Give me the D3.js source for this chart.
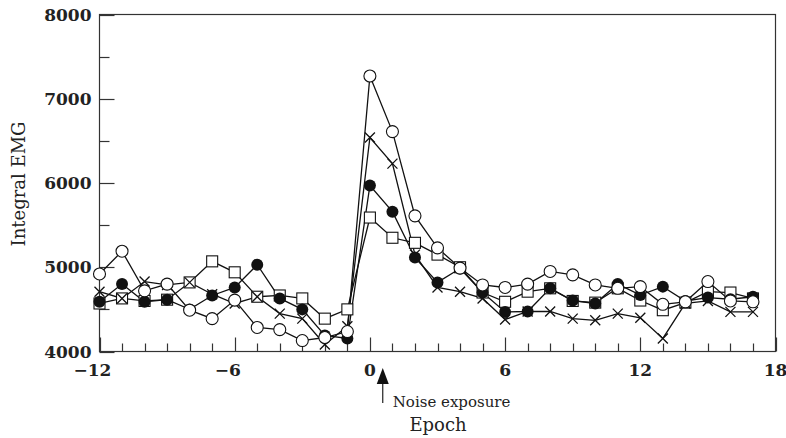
<!DOCTYPE html>
<html>
<head>
<meta charset="utf-8">
<script src="https://cdn.jsdelivr.net/npm/d3@7"></script>
<style>
  body { margin: 0; background: #fff; }
  svg { display: block; }
</style>
</head>
<body>
<div id="chart"></div>
<script>
// epochs -12 .. 17
var epochs = d3.range(-12, 18);

var openCircles = [4920, 5190, 4720, 4800, 4490, 4390, 4610, 4285, 4260, 4130, 4166, 4237,
                   7270, 6610, 5610, 5230, 4990, 4790, 4760, 4800, 4950, 4910, 4790, 4750, 4770, 4560,
                   4590, 4830, 4600, 4590];
var crosses = [4710, 4630, 4830, 4790, 4820, 4680, 4570, 4650, 4450, 4390, 4083, 4300,
               6540, 6230, 5150, 4760, 4710, 4630, 4380, 4475, 4475, 4390, 4370, 4450, 4400, 4155,
               4570, 4600, 4470, 4470];
var filledCircles = [4590, 4800, 4590, 4615, 4500, 4665, 4760, 5030, 4630, 4500, 4190, 4155,
                     5970, 5660, 5115, 4820, 4985, 4700, 4470, 4475, 4750, 4605, 4570, 4800, 4670, 4770,
                     4600, 4640, 4620, 4650];
var openSquares = [4570, 4630, 4600, 4615, 4820, 5070, 4940, 4650, 4665, 4630, 4390, 4500,
                   5590, 5350, 5290, 5150, 5000, 4700, 4590, 4710, 4750, 4600, 4580, 4750, 4605, 4490,
                   4580, 4710, 4700, 4630];

var xTicks = [-12, -6, 0, 6, 12, 18];
var yTicks = [4000, 5000, 6000, 7000, 8000];

var W = 786, H = 438;
var m = {left: 99.5, right: 775.5, top: 14.5, bottom: 351.5};

var svg = d3.select("#chart").append("svg")
  .attr("width", W)
  .attr("height", H);

var x = d3.scaleLinear().domain([-12, 18]).range([m.left, m.right]);
var y = d3.scaleLinear().domain([4000, 8000]).range([m.bottom, m.top]);

var axisColor = "#333";

// frame
svg.append("rect")
  .attr("x", m.left).attr("y", m.top)
  .attr("width", m.right - m.left).attr("height", m.bottom - m.top)
  .attr("fill", "none").attr("stroke", axisColor).attr("stroke-width", 1.2);

// x ticks (inward)
svg.append("g").selectAll("line")
  .data(d3.range(-12, 19))
  .join("line")
    .attr("x1", function(d) { return Math.round(x(d)) + 0.5; })
    .attr("x2", function(d) { return Math.round(x(d)) + 0.5; })
    .attr("y1", m.bottom)
    .attr("y2", function(d) { return d % 6 === 0 ? m.bottom - 14 : m.bottom - 8; })
    .attr("stroke", axisColor).attr("stroke-width", 1.2);

// y ticks (inward)
svg.append("g").selectAll("line")
  .data(d3.range(4000, 8001, 500))
  .join("line")
    .attr("x1", m.left)
    .attr("x2", function(d) { return d % 1000 === 0 ? m.left + 15 : m.left + 10; })
    .attr("y1", function(d) { return Math.round(y(d)) + 0.5; })
    .attr("y2", function(d) { return Math.round(y(d)) + 0.5; })
    .attr("stroke", axisColor).attr("stroke-width", 1.2);

var labelFont = "'DejaVu Serif', serif";

svg.append("g").selectAll("text")
  .data(xTicks)
  .join("text")
    .attr("x", function(d) { return x(d); })
    .attr("dx", function(d) { return d < 0 ? -7 : 0; })
    .attr("y", 376)
    .attr("text-anchor", "middle")
    .attr("font-family", labelFont)
    .attr("font-weight", "bold")
    .attr("font-size", 17)
    .attr("fill", "#222")
    .text(function(d) { return d < 0 ? "\u2212" + Math.abs(d) : d; });

svg.append("g").selectAll("text")
  .data(yTicks)
  .join("text")
    .attr("x", m.left - 8)
    .attr("y", function(d) { return y(d); })
    .attr("dy", "0.36em")
    .attr("text-anchor", "end")
    .attr("font-family", labelFont)
    .attr("font-weight", "bold")
    .attr("font-size", 17)
    .attr("fill", "#222")
    .text(function(d) { return d; });

// axis titles
svg.append("text")
  .attr("transform", "translate(25,184) rotate(-90)")
  .attr("text-anchor", "middle")
  .attr("font-family", labelFont)
  .attr("font-size", 18)
  .attr("fill", "#222")
  .text("Integral EMG");

svg.append("text")
  .attr("x", 438).attr("y", 431)
  .attr("text-anchor", "middle")
  .attr("font-family", labelFont)
  .attr("font-size", 18)
  .attr("fill", "#222")
  .text("Epoch");

// noise exposure arrow
var ax = x(0.57);
svg.append("line")
  .attr("x1", ax).attr("x2", ax)
  .attr("y1", 382).attr("y2", 403)
  .attr("stroke", "#222").attr("stroke-width", 1.2);
svg.append("path")
  .attr("d", "M" + ax + ",368 L" + (ax - 6) + ",384 L" + (ax + 6) + ",384 Z")
  .attr("fill", "#111");
svg.append("text")
  .attr("x", ax + 10).attr("y", 407)
  .attr("font-family", labelFont)
  .attr("font-size", 15)
  .attr("fill", "#222")
  .text("Noise exposure");

// series
var series = [
  {name: "squares", values: openSquares},
  {name: "crosses", values: crosses},
  {name: "filled", values: filledCircles},
  {name: "circles", values: openCircles}
];

var line = d3.line()
  .x(function(d, i) { return x(epochs[i]); })
  .y(function(d) { return y(d); });

svg.append("g").selectAll("path")
  .data(series)
  .join("path")
    .attr("d", function(s) { return line(s.values); })
    .attr("fill", "none")
    .attr("stroke", "#111")
    .attr("stroke-width", 1.3);

series.forEach(function(s) {
  var g = svg.append("g");
  var pts = s.values.map(function(v, i) { return {x: x(epochs[i]), y: y(v)}; });
  if (s.name === "squares") {
    g.selectAll("rect").data(pts).join("rect")
      .attr("x", function(d) { return d.x - 5.5; })
      .attr("y", function(d) { return d.y - 5.5; })
      .attr("width", 11).attr("height", 11)
      .attr("fill", "#fff").attr("stroke", "#111").attr("stroke-width", 1.1);
  } else if (s.name === "crosses") {
    g.selectAll("path").data(pts).join("path")
      .attr("d", function(d) {
        return "M" + (d.x - 5) + "," + (d.y - 5) + "L" + (d.x + 5) + "," + (d.y + 5) +
               "M" + (d.x - 5) + "," + (d.y + 5) + "L" + (d.x + 5) + "," + (d.y - 5);
      })
      .attr("stroke", "#111").attr("stroke-width", 1.3).attr("fill", "none");
  } else if (s.name === "filled") {
    g.selectAll("circle").data(pts).join("circle")
      .attr("cx", function(d) { return d.x; })
      .attr("cy", function(d) { return d.y; })
      .attr("r", 6)
      .attr("fill", "#111");
  } else {
    g.selectAll("circle").data(pts).join("circle")
      .attr("cx", function(d) { return d.x; })
      .attr("cy", function(d) { return d.y; })
      .attr("r", 6)
      .attr("fill", "#fff").attr("stroke", "#111").attr("stroke-width", 1.1);
  }
});
</script>
</body>
</html>
